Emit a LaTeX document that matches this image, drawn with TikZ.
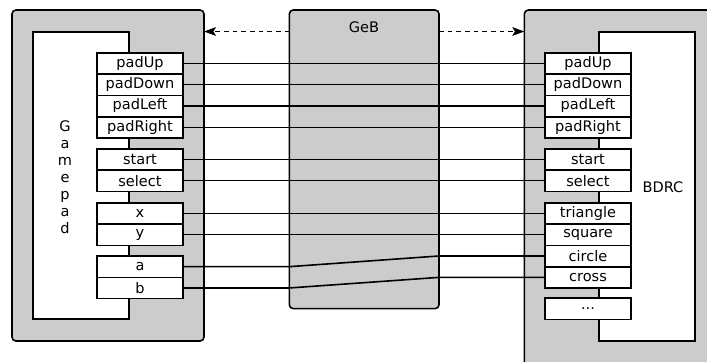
\documentclass[tikz,border=0pt]{standalone}
\usepackage{fontspec}
\setmainfont{DejaVu Sans}
\usetikzlibrary{arrows.meta,calc}
\definecolor{boxgray}{RGB}{204,204,204}
\tikzset{
  graybox/.style={draw, line width=1.2pt, fill=boxgray, rounded corners=3pt, anchor=north west, inner sep=0pt, outer sep=0pt},
  whitebox/.style={draw, line width=1.2pt, fill=white},
  btn/.style={draw, line width=1.2pt, fill=white, anchor=north west, minimum width=64.5pt, minimum height=16pt, inner sep=0pt, outer sep=0pt, font=\fontsize{10.9}{12.75}\selectfont},
  wire/.style={line width=1.2pt},
  darr/.style={line width=1.2pt, dash pattern=on 3.5pt off 3pt, -{Stealth[length=9pt,width=6.5pt,inset=2pt]}},
  lbl/.style={font=\fontsize{10.9}{12.75}\selectfont, inner sep=0pt}
}
\begin{document}
\begin{tikzpicture}[x=0.75pt,y=-0.75pt]
\useasboundingbox (0,0) rectangle (707,361);
\clip (0,0) rectangle (707,361);
% gray boxes
\node[graybox, minimum width=144pt, minimum height=248.25pt] (gp) at (12,10) {};
\node[graybox, minimum width=112.3pt, minimum height=224pt] (geb) at (289.3,10) {};
\node[graybox, minimum width=147pt, minimum height=273pt] (bd) at (524.3,10) {};
% inner white boxes
\draw[whitebox] (33,32) rectangle (129,319);
\draw[whitebox] (599,32) rectangle (695,341);
% labels
\node[lbl, align=center] (gptxt) at (65,177) {G\\a\\m\\e\\p\\a\\d};
\node[lbl] (gebtxt) at (364,27) {GeB};
\node[lbl] (bdtxt) at (663,187) {BDRC};
% left buttons
\node[btn] (lu) at (97,52.7) {padUp};
\node[btn] (ld) at (97,74) {padDown};
\node[btn] (ll) at (97,95.3) {padLeft};
\node[btn] (lr) at (97,116.7) {padRight};
\node[btn] (lst) at (97,148.7) {start};
\node[btn] (lse) at (97,170) {select};
\node[btn] (lx) at (97,202.7) {x};
\node[btn] (ly) at (97,224) {y};
\node[btn] (la) at (97,256) {a};
\node[btn] (lb) at (97,277.3) {b};
% right buttons
\node[btn] (ru) at (545,52.7) {padUp};
\node[btn] (rd) at (545,74) {padDown};
\node[btn] (rl) at (545,95.3) {padLeft};
\node[btn] (rr) at (545,116.7) {padRight};
\node[btn] (rst) at (545,148.7) {start};
\node[btn] (rse) at (545,170) {select};
\node[btn] (rt) at (545,202.7) {triangle};
\node[btn] (rsq) at (545,224) {square};
\node[btn] (rc) at (545,245.3) {circle};
\node[btn] (rx) at (545,266.7) {cross};
\node[btn] (rdots) at (545,298) {...};
% wires
\draw[wire] (lu.east) -- (ru.west);
\draw[wire] (ld.east) -- (rd.west);
\draw[wire] (ll.east) -- (rl.west);
\draw[wire] (lr.east) -- (rr.west);
\draw[wire] (lst.east) -- (rst.west);
\draw[wire] (lse.east) -- (rse.west);
\draw[wire] (lx.east) -- (rt.west);
\draw[wire] (ly.east) -- (rsq.west);
\draw[wire] (la.east) -- (la.east -| geb.west) -- (rc.west -| geb.east) -- (rc.west);
\draw[wire] (lb.east) -- (lb.east -| geb.west) -- (rx.west -| geb.east) -- (rx.west);
% dashed arrows
\coordinate (gl) at ($(geb.north west)+(0,21.5)$);
\coordinate (gr) at ($(geb.north east)+(0,21.5)$);
\draw[darr] (gl) -- (gl -| gp.east);
\draw[darr] (gr) -- (gr -| bd.west);
\end{tikzpicture}
\end{document}
